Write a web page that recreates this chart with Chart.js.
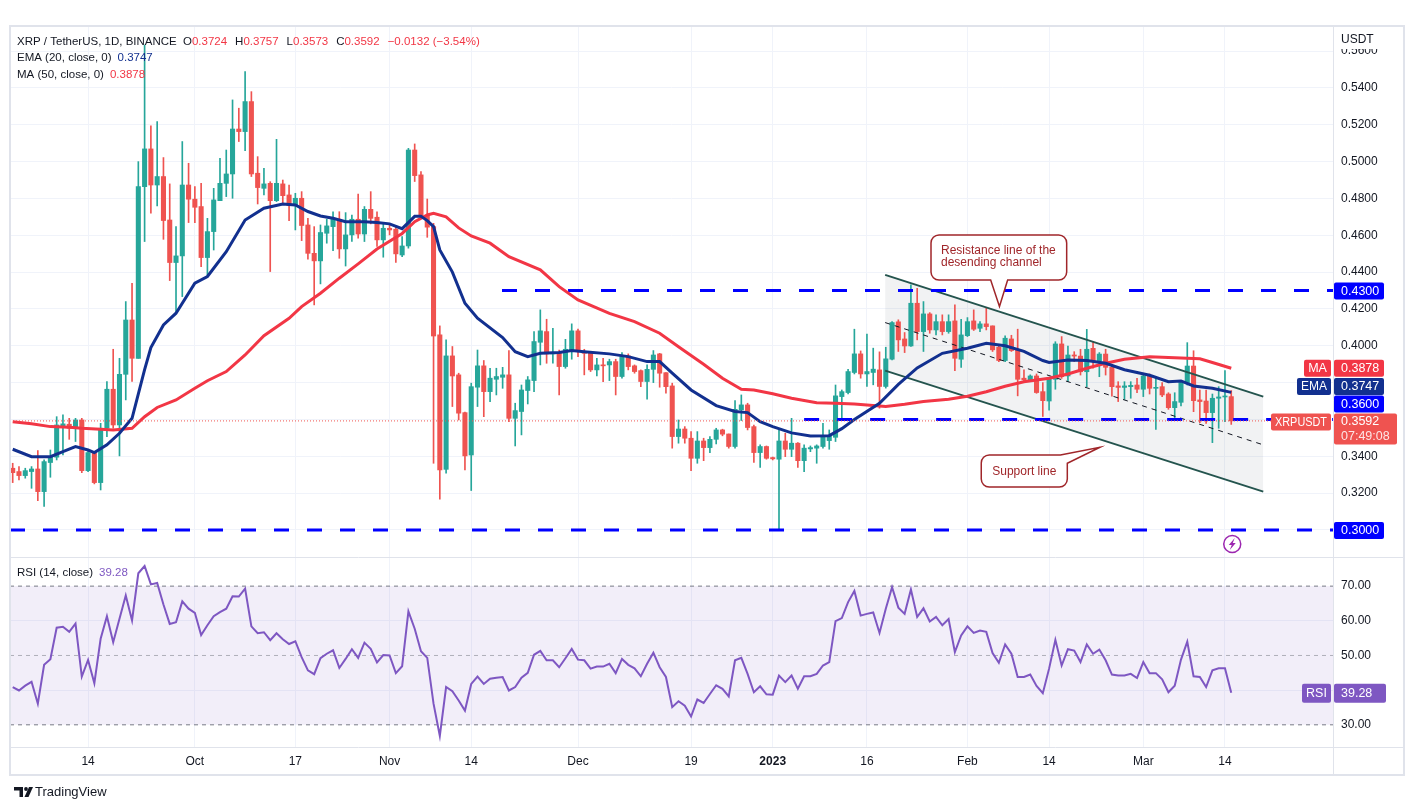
<!DOCTYPE html>
<html>
<head>
<meta charset="utf-8">
<script src="https://cdn.jsdelivr.net/npm/chart.js@4.4.0/dist/chart.umd.min.js"></script>
<style>
  html, body { margin: 0; padding: 0; background: #fff; }
  #wrap { position: relative; width: 1409px; height: 810px; }
</style>
</head>
<body>
<div id="wrap"><canvas id="chart" width="1409" height="810"></canvas></div>
<script>
// XRP/USDT daily candles, day 0 = 2022-09-02
const opens = [
  0.3335,0.3317,0.3295,0.3317,0.3331,0.3208,0.3366,0.3395,0.3566,0.3574,
  0.3552,0.3597,0.3322,0.3416,0.3257,0.3552,0.3764,0.3570,0.3845,0.4140,
  0.3932,0.4864,0.5069,0.4873,0.4919,0.4683,0.4452,0.4488,0.4873,0.4796,
  0.4756,0.4479,0.4620,0.4788,0.4882,0.4933,0.5177,0.5163,0.5326,0.4937,
  0.4855,0.4882,0.4788,0.4879,0.4819,0.4761,0.4801,0.4656,0.4502,0.4461,
  0.4611,0.4647,0.4687,0.4526,0.4602,0.4687,0.4607,0.4741,0.4698,0.4575,
  0.4638,0.4633,0.4493,0.4542,0.5063,0.4928,0.4705,0.4647,0.4059,0.3329,
  0.3945,0.3842,0.3637,0.3407,0.3775,0.3891,0.3751,0.3818,0.3829,0.3842,
  0.3606,0.3643,0.3757,0.3811,0.4019,0.4077,0.3956,0.3963,0.3887,0.3974,
  0.4081,0.3968,0.3963,0.3869,0.3896,0.3896,0.3914,0.3833,0.3945,0.3891,
  0.3865,0.3806,0.3872,0.3956,0.3854,0.3782,0.3507,0.3548,0.3498,0.3389,
  0.3483,0.3447,0.3492,0.3543,0.3521,0.3453,0.3652,0.3679,0.3561,0.3420,
  0.3453,0.3393,0.3384,0.3483,0.3438,0.3471,0.3376,0.3440,0.3444,0.3453,
  0.3485,0.3503,0.3724,0.3746,0.3855,0.3956,0.3847,0.3855,0.3869,0.3779,
  0.3927,0.4130,0.4037,0.3999,0.4231,0.4077,0.4173,0.4086,0.4131,0.4077,
  0.4135,0.3927,0.4055,0.4135,0.4095,0.4119,0.4108,0.3992,0.3920,0.4037,
  0.3978,0.3824,0.3815,0.3836,0.3751,0.3700,0.3818,0.4010,0.3836,0.3950,
  0.3944,0.3859,0.3986,0.3919,0.3955,0.3883,0.3782,0.3774,0.3778,0.3787,
  0.3764,0.3836,0.3769,0.3778,0.3738,0.3664,0.3693,0.3800,0.3890,0.3706,
  0.3700,0.3637,0.3715,0.3722,0.3724
];
const highs = [
  0.3362,0.3344,0.3335,0.3344,0.3431,0.3380,0.3434,0.3615,0.3625,0.3606,
  0.3606,0.3606,0.3431,0.3425,0.3579,0.3806,0.3981,0.3932,0.4240,0.4339,
  0.5000,0.5633,0.5194,0.5217,0.5022,0.4879,0.4647,0.5109,0.4991,0.4864,
  0.4882,0.4692,0.4855,0.5018,0.5063,0.5335,0.5290,0.5489,0.5380,0.5027,
  0.4964,0.4891,0.5121,0.4900,0.4873,0.4828,0.4837,0.4692,0.4647,0.4656,
  0.4687,0.4728,0.4728,0.4723,0.4710,0.4824,0.4756,0.4837,0.4728,0.4665,
  0.4665,0.4651,0.4593,0.5072,0.5096,0.4946,0.4797,0.4665,0.4108,0.4032,
  0.3996,0.3851,0.3640,0.3797,0.3977,0.3920,0.3878,0.3878,0.3883,0.3974,
  0.3688,0.3787,0.3833,0.4077,0.4195,0.4144,0.4095,0.3977,0.4035,0.4119,
  0.4090,0.3981,0.3968,0.3932,0.3932,0.3927,0.3927,0.3963,0.3956,0.3896,
  0.3869,0.3896,0.3974,0.3959,0.3854,0.3797,0.3597,0.3561,0.3534,0.3534,
  0.3498,0.3507,0.3552,0.3547,0.3521,0.3702,0.3733,0.3688,0.3570,0.3462,
  0.3456,0.3396,0.3552,0.3525,0.3606,0.3474,0.3462,0.3456,0.3462,0.3579,
  0.3543,0.3787,0.3760,0.3872,0.4090,0.3972,0.4064,0.3987,0.3967,0.3992,
  0.4131,0.4141,0.4072,0.4331,0.4312,0.4240,0.4180,0.4168,0.4168,0.4168,
  0.4222,0.4144,0.4153,0.4195,0.4131,0.4204,0.4108,0.4005,0.4054,0.4057,
  0.4090,0.3869,0.3842,0.3847,0.3800,0.3830,0.4022,0.4050,0.3999,0.3968,
  0.3981,0.4089,0.4022,0.3963,0.3981,0.3887,0.3805,0.3805,0.3805,0.3823,
  0.3850,0.3847,0.3832,0.3800,0.3745,0.3745,0.3805,0.4017,0.3973,0.3760,
  0.3760,0.3738,0.3778,0.3865,0.3757
];
const lows = [
  0.3257,0.3271,0.3281,0.3226,0.3159,0.3127,0.3286,0.3380,0.3407,0.3492,
  0.3480,0.3311,0.3317,0.3250,0.3217,0.3507,0.3552,0.3402,0.3706,0.3806,
  0.3932,0.4566,0.4720,0.4759,0.4578,0.4354,0.4173,0.4267,0.4669,0.4669,
  0.4430,0.4376,0.4520,0.4788,0.4810,0.4801,0.5109,0.5060,0.4919,0.4770,
  0.4819,0.4403,0.4783,0.4774,0.4680,0.4629,0.4571,0.4470,0.4222,0.4336,
  0.4557,0.4517,0.4475,0.4433,0.4566,0.4584,0.4566,0.4662,0.4539,0.4481,
  0.4602,0.4452,0.4484,0.4530,0.4892,0.4690,0.4589,0.3362,0.3167,0.3308,
  0.3670,0.3597,0.3326,0.3214,0.3670,0.3615,0.3697,0.3733,0.3769,0.3588,
  0.3456,0.3516,0.3684,0.3751,0.3896,0.3905,0.3905,0.3733,0.3878,0.3927,
  0.3941,0.3842,0.3860,0.3836,0.3805,0.3811,0.3733,0.3824,0.3869,0.3851,
  0.3778,0.3710,0.3800,0.3775,0.3742,0.3444,0.3471,0.3471,0.3322,0.3362,
  0.3376,0.3420,0.3467,0.3511,0.3444,0.3444,0.3594,0.3543,0.3366,0.3340,
  0.3384,0.3380,0.3000,0.3398,0.3398,0.3340,0.3317,0.3425,0.3362,0.3444,
  0.3438,0.3480,0.3597,0.3739,0.3847,0.3824,0.3779,0.3788,0.3661,0.3770,
  0.3923,0.3969,0.3963,0.3996,0.4032,0.3969,0.4068,0.4059,0.4059,0.4068,
  0.3865,0.3882,0.4050,0.4083,0.4077,0.4086,0.3969,0.3914,0.3914,0.3969,
  0.3728,0.3811,0.3811,0.3742,0.3616,0.3650,0.3764,0.3823,0.3805,0.3914,
  0.3841,0.3778,0.3878,0.3832,0.3841,0.3727,0.3697,0.3709,0.3715,0.3745,
  0.3724,0.3738,0.3546,0.3724,0.3655,0.3601,0.3673,0.3787,0.3642,0.3583,
  0.3579,0.3474,0.3552,0.3588,0.3573
];
const closes = [
  0.3311,0.3295,0.3322,0.3331,0.3208,0.3371,0.3398,0.3570,0.3576,0.3552,
  0.3597,0.3322,0.3420,0.3257,0.3552,0.3764,0.3570,0.3845,0.4140,0.3932,
  0.4864,0.5069,0.4873,0.4919,0.4680,0.4452,0.4488,0.4873,0.4796,0.4752,
  0.4479,0.4620,0.4792,0.4882,0.4933,0.5177,0.5163,0.5326,0.4933,0.4859,
  0.4879,0.4788,0.4882,0.4815,0.4761,0.4801,0.4653,0.4502,0.4461,0.4615,
  0.4651,0.4692,0.4526,0.4602,0.4687,0.4607,0.4741,0.4692,0.4575,0.4638,
  0.4629,0.4499,0.4542,0.5063,0.4924,0.4705,0.4644,0.4053,0.3326,0.3945,
  0.3836,0.3634,0.3402,0.3778,0.3891,0.3751,0.3824,0.3833,0.3842,0.3606,
  0.3648,0.3760,0.3815,0.4023,0.4081,0.3956,0.3963,0.3887,0.3981,0.4081,
  0.3968,0.3959,0.3869,0.3896,0.3891,0.3914,0.3833,0.3941,0.3887,0.3860,
  0.3806,0.3872,0.3950,0.3851,0.3778,0.3507,0.3548,0.3498,0.3389,0.3483,
  0.3447,0.3492,0.3543,0.3520,0.3453,0.3655,0.3679,0.3556,0.3420,0.3453,
  0.3389,0.3386,0.3483,0.3438,0.3471,0.3376,0.3444,0.3447,0.3456,0.3507,
  0.3511,0.3728,0.3751,0.3860,0.3956,0.3847,0.3860,0.3873,0.3779,0.3929,
  0.4126,0.4032,0.3999,0.4231,0.4077,0.4173,0.4086,0.4131,0.4077,0.4131,
  0.3932,0.4059,0.4131,0.4090,0.4119,0.4104,0.3978,0.3920,0.4041,0.3974,
  0.3818,0.3815,0.3836,0.3746,0.3702,0.3818,0.4010,0.3832,0.3950,0.3944,
  0.3859,0.3981,0.3914,0.3955,0.3883,0.3778,0.3774,0.3782,0.3785,0.3764,
  0.3836,0.3769,0.3773,0.3733,0.3664,0.3697,0.3800,0.3890,0.3702,0.3697,
  0.3637,0.3715,0.3722,0.3724,0.3592
];

const emaDays = [0,3,6,8,10,12,13,15,17,19,21,22,24,26,29,31,34,37,40,43,45,47,49,51,53,56,58,60,62,64,
  65,66,67,68,70,72,74,78,80,82,84,87,89,91,95,98,101,103,105,108,112,115,117,119,121,124,127,130,132,134,
  138,141,144,148,152,155,158,161,164,165,168,171,174,177,181,184,186,188,191,194];
const emaValues = [0.3438,0.3398,0.3398,0.3425,0.3453,0.3434,0.3420,0.3462,0.3525,0.3606,0.3870,0.3990,0.4113,0.4177,0.4340,0.4376,0.4511,0.4683,0.4747,0.4770,
  0.4765,0.4729,0.4705,0.4692,0.4674,0.4674,0.4669,0.4662,0.4636,0.4703,0.4703,0.4680,0.4647,0.4520,0.4400,0.4231,0.4150,0.4045,0.3968,0.3941,
  0.3959,0.3963,0.3974,0.3968,0.3956,0.3941,0.3914,0.3914,0.3851,0.3760,0.3675,0.3643,0.3637,0.3588,0.3561,0.3527,0.3510,0.3512,0.3550,0.3600,
  0.3688,0.3790,0.3880,0.3959,0.3987,0.4014,0.4000,0.3970,0.3920,0.3909,0.3923,0.3920,0.3905,0.3870,0.3840,0.3805,0.3809,0.3782,0.3769,0.3747];
const maDays = [0,3,6,9,11,14,16,19,21,23,26,29,31,34,37,40,44,46,49,52,55,58,62,64,66,67,69,71,73,76,
  79,84,87,90,95,99,103,106,110,113,116,118,121,124,128,131,134,139,142,145,149,152,155,158,161,165,168,171,174,177,
  181,184,187,189,191,194];
const maValues = [0.3588,0.3576,0.3561,0.3557,0.3552,0.3547,0.3543,0.3552,0.3615,0.3665,0.3706,0.3769,0.3810,0.3860,0.3950,0.4055,0.4149,0.4213,0.4285,0.4367,
  0.4445,0.4525,0.4610,0.4674,0.4710,0.4719,0.4700,0.4640,0.4596,0.4557,0.4484,0.4412,0.4321,0.4249,0.4176,0.4131,0.4068,0.3995,0.3900,0.3824,
  0.3764,0.3760,0.3739,0.3715,0.3691,0.3688,0.3684,0.3670,0.3682,0.3697,0.3710,0.3726,0.3750,0.3780,0.3805,0.3824,0.3847,0.3878,0.3905,0.3927,
  0.3941,0.3936,0.3932,0.3929,0.3909,0.3878];
const rsiValues = [
  40.9,39.9,41.3,42.4,36.1,47.3,48.9,58.0,58.3,56.8,
  59.2,43.9,48.7,42.0,54.8,61.3,53.8,60.6,67.3,60.1,
  73.7,75.8,70.5,70.9,64.7,59.1,59.6,65.6,63.5,62.3,
  55.9,58.7,61.3,62.5,63.5,67.1,67.0,69.3,58.4,56.4,
  56.7,54.4,56.4,54.7,53.3,54.1,49.5,45.7,44.6,49.2,
  50.5,51.5,46.4,49.0,51.8,49.3,53.7,51.9,48.0,50.1,
  50.0,44.9,46.9,62.7,57.7,51.2,49.3,36.1,26.8,40.9,
  39.7,37.0,34.1,41.8,43.9,41.8,43.3,43.6,43.8,39.9,
  40.9,43.6,45.0,50.2,51.3,48.6,48.6,46.6,49.2,51.9,
  48.8,48.6,46.2,46.8,46.8,47.6,44.9,49.0,47.3,46.3,
  44.0,47.6,50.8,46.6,43.8,35.1,36.8,35.5,32.4,37.3,
  36.3,38.9,41.4,40.4,38.2,48.6,49.3,44.7,39.4,41.1,
  38.8,38.7,44.2,42.3,44.2,40.4,44.0,44.0,44.7,47.1,
  48.1,59.9,60.8,65.4,68.6,61.5,62.0,62.4,56.5,63.5,
  69.7,63.8,62.0,69.0,61.1,63.6,59.8,61.1,58.7,60.5,
  51.0,55.8,58.4,56.5,57.2,56.8,50.7,47.9,53.2,50.5,
  43.8,43.8,44.5,41.2,39.1,46.2,54.5,47.1,51.8,51.4,
  48.1,53.2,50.5,51.7,48.6,44.5,44.2,44.2,44.7,43.5,
  48.1,44.9,44.9,43.1,39.4,41.3,48.8,54.0,44.0,43.8,
  40.9,45.7,46.3,46.3,39.28
];

// axis ticks
const tickDays = [12, 29, 45, 60, 73, 90, 108, 121, 136, 152, 165, 180, 193];
const tickLabels = ['14', 'Oct', '17', 'Nov', '14', 'Dec', '19', '2023', '16', 'Feb', '14', 'Mar', '14'];
const priceTicks = [0.30, 0.32, 0.34, 0.36, 0.38, 0.40, 0.42, 0.44, 0.46, 0.48, 0.50, 0.52, 0.54, 0.56];
const hiddenPriceTicks = [0.30, 0.36, 0.38];
const rsiTicks = [30, 40, 50, 60, 70];

// drawn levels and channel
const levelPrices = [0.43, 0.36, 0.30];
const levelFrom = [77.9, 126.0, -0.43];
const channelDays = [138.9, 199.1];
const channelUpper = [0.4385, 0.3724];
const channelLower = [0.3865, 0.3208];
const channelMid = [0.4126, 0.3462];

const X_MIN = -0.43, X_MAX = 210.2;
const FONT = '"Liberation Sans", Arial, sans-serif';
const UP = '#26a69a', DOWN = '#ef5350';
const N = closes.length;
const candleColors = closes.map((c, i) => c >= opens[i] ? UP : DOWN);

const pts = (xs, ys) => xs.map((x, i) => ({ x: x, y: ys[i] }));
const span = (v, from) => [{ x: from, y: v }, { x: X_MAX, y: v }];

const datasets = [
  { type: 'line', data: pts(channelDays, channelUpper), borderWidth: 0, pointRadius: 0,
    fill: '+1', backgroundColor: 'rgba(120,123,134,0.10)', order: 40 },
  { type: 'line', data: pts(channelDays, channelLower), borderWidth: 0, pointRadius: 0, fill: false, order: 39 },
  { type: 'line', yAxisID: 'yR', data: span(70, X_MIN), borderColor: '#787b86', borderWidth: 1, borderDash: [4, 4],
    pointRadius: 0, fill: '+1', backgroundColor: 'rgba(126,87,194,0.10)', order: 38 },
  { type: 'line', yAxisID: 'yR', data: span(30, X_MIN), borderColor: '#787b86', borderWidth: 1, borderDash: [4, 4],
    pointRadius: 0, fill: false, order: 37 },
  { type: 'line', yAxisID: 'yR', data: span(50, X_MIN), borderColor: 'rgba(120,123,134,0.55)', borderWidth: 1, borderDash: [4, 4],
    pointRadius: 0, fill: false, order: 36 },
  { type: 'bar', data: lows.map((l, i) => ({ x: i, y: [l, highs[i]] })), backgroundColor: candleColors,
    barThickness: 1, maxBarThickness: 1, grouped: false, borderWidth: 0, order: 20 },
  { type: 'bar', data: opens.map((o, i) => ({ x: i, y: [o, closes[i]] })), backgroundColor: candleColors,
    barThickness: 4.4, maxBarThickness: 4.4, grouped: false, borderWidth: 0, minBarLength: 1, order: 19 },
  { type: 'line', data: pts(channelDays, channelUpper), borderColor: '#24544e', borderWidth: 2, pointRadius: 0, order: 8 },
  { type: 'line', data: pts(channelDays, channelLower), borderColor: '#24544e', borderWidth: 2, pointRadius: 0, order: 8 },
  { type: 'line', data: pts(channelDays, channelMid), borderColor: '#131722', borderWidth: 1, borderDash: [5, 5], pointRadius: 0, order: 8 }
];
levelPrices.forEach((p, k) => datasets.push({
  type: 'line', data: span(p, levelFrom[k]), borderColor: '#0000ff', borderWidth: 3,
  borderDash: [15, 18], pointRadius: 0, order: 6
}));
datasets.push(
  { type: 'line', data: pts(maDays, maValues), borderColor: '#f23645', borderWidth: 3, pointRadius: 0, order: 4 },
  { type: 'line', data: pts(emaDays, emaValues), borderColor: '#12308f', borderWidth: 3, pointRadius: 0, order: 3 },
  { type: 'line', data: span(closes[N - 1], X_MIN), borderColor: '#ef5350', borderWidth: 1, borderDash: [1, 2], pointRadius: 0, order: 2 },
  { type: 'line', yAxisID: 'yR', data: rsiValues.map((v, i) => ({ x: i, y: v })), borderColor: '#7e57c2', borderWidth: 2, pointRadius: 0, order: 1 }
);

function tag(ctx, x, y, w, h, bg, text, align) {
  ctx.fillStyle = bg;
  ctx.beginPath(); ctx.roundRect(x, y, w, h, 2); ctx.fill();
  ctx.fillStyle = '#fff';
  ctx.textBaseline = 'middle';
  ctx.textAlign = align || 'left';
  if (align === 'center') ctx.fillText(text, x + w / 2, y + h / 2 + 0.5, w - 8);
  else ctx.fillText(text, x + 7, y + h / 2 + 0.5);
}

const overlay = {
  id: 'overlay',
  beforeDraw(chart) {
    const ctx = chart.ctx;
    ctx.save(); ctx.fillStyle = '#fff'; ctx.fillRect(0, 0, chart.width, chart.height); ctx.restore();
  },
  afterDraw(chart) {
    const ctx = chart.ctx;
    const xs = chart.scales.x, ys = chart.scales.y, yr = chart.scales.yR;
    const px = v => xs.getPixelForValue(v), py = v => ys.getPixelForValue(v);
    const left = chart.chartArea.left, right = chart.chartArea.right;
    ctx.save();

    // frame and pane separators
    ctx.strokeStyle = '#e0e3eb'; ctx.lineWidth = 1;
    ctx.beginPath();
    ctx.moveTo(left, ys.bottom + 0.5); ctx.lineTo(1404, ys.bottom + 0.5);
    ctx.moveTo(left, yr.bottom + 0.5); ctx.lineTo(1404, yr.bottom + 0.5);
    ctx.moveTo(right + 0.5, ys.top); ctx.lineTo(right + 0.5, 774);
    ctx.stroke();
    ctx.lineWidth = 2;
    ctx.strokeRect(left, ys.top - 1, 1404 - left, 775 - ys.top + 1);

    // USDT caption
    ctx.fillStyle = '#fff'; ctx.fillRect(right + 1, ys.top, 68, 22);
    ctx.font = '12px ' + FONT; ctx.fillStyle = '#131722'; ctx.textBaseline = 'middle'; ctx.textAlign = 'left';
    ctx.fillText('USDT', right + 8, 40);

    // legend header
    const red = '#f23645';
    ctx.font = '11.5px ' + FONT;
    ctx.fillStyle = '#131722';
    ctx.fillText('XRP / TetherUS, 1D, BINANCE', 17, 42);
    let hx = 183;
    [['O', opens[N - 1]], ['H', highs[N - 1]], ['L', lows[N - 1]], ['C', closes[N - 1]]].forEach(([k, v]) => {
      ctx.fillStyle = '#131722'; ctx.fillText(k, hx, 42); hx += ctx.measureText(k).width;
      const s = v.toFixed(4);
      ctx.fillStyle = red; ctx.fillText(s, hx, 42); hx += ctx.measureText(s).width + 8;
    });
    const chg = closes[N - 1] - closes[N - 2];
    const pct = chg / closes[N - 2] * 100;
    ctx.fillStyle = red;
    ctx.fillText('\u2212' + Math.abs(chg).toFixed(4) + ' (\u2212' + Math.abs(pct).toFixed(2) + '%)', hx, 42);
    const legendLine = (label, value, color, y) => {
      ctx.fillStyle = '#131722'; ctx.fillText(label, 17, y);
      ctx.fillStyle = color; ctx.fillText(value, 17 + ctx.measureText(label).width + 6, y);
    };
    legendLine('EMA (20, close, 0)', emaValues[emaValues.length - 1].toFixed(4), '#12308f', 58);
    legendLine('MA (50, close, 0)', maValues[maValues.length - 1].toFixed(4), red, 75);
    legendLine('RSI (14, close)', rsiValues[N - 1].toFixed(2), '#7e57c2', 573);

    // right-axis value tags, pushed up to avoid overlap
    ctx.font = '12.5px ' + FONT;
    const ax = right + 1;
    const priceY = py(closes[N - 1]);
    tag(ctx, ax, priceY - 7.5, 63, 31, '#ef5350', '', 'left');
    ctx.fillStyle = '#fff'; ctx.textAlign = 'left';
    ctx.fillText(closes[N - 1].toFixed(4), ax + 7, priceY + 1);
    ctx.fillStyle = 'rgba(255,255,255,0.85)';
    ctx.fillText('07:49:08', ax + 7, priceY + 16);
    tag(ctx, right - 62, priceY - 7.5, 60, 17, '#ef5350', 'XRPUSDT', 'center');
    let ceiling = priceY - 8.5;
    const stacked = [
      { v: 0.36, bg: '#0000ff' },
      { v: emaValues[emaValues.length - 1], bg: '#12308f', name: 'EMA', w: 34 },
      { v: maValues[maValues.length - 1], bg: '#f23645', name: 'MA', w: 27 }
    ];
    stacked.forEach(t => {
      let top = py(t.v) - 8.5;
      if (top + 17 > ceiling) top = ceiling - 17;
      tag(ctx, ax, top, 50, 17, t.bg, t.v.toFixed(4));
      if (t.name) tag(ctx, right - 2 - t.w, top, t.w, 17, t.bg, t.name, 'center');
      ceiling = top - 0.5;
    });
    [0.43, 0.30].forEach(v => tag(ctx, ax, py(v) - 8, 50, 17, '#0000ff', v.toFixed(4)));
    const rsiY = yr.getPixelForValue(rsiValues[N - 1]);
    tag(ctx, ax, rsiY - 9, 52, 19, '#7e57c2', rsiValues[N - 1].toFixed(2));
    tag(ctx, right - 31, rsiY - 9, 29, 19, '#7e57c2', 'RSI', 'center');

    // callouts
    ctx.lineWidth = 1.5; ctx.strokeStyle = '#a0262a'; ctx.fillStyle = '#fff';
    let x0 = px(146.2), x1 = px(167.8), y0 = py(0.4602), y1 = py(0.4357), r = 8;
    ctx.beginPath();
    ctx.moveTo(x0 + r, y0); ctx.lineTo(x1 - r, y0); ctx.arcTo(x1, y0, x1, y0 + r, r);
    ctx.lineTo(x1, y1 - r); ctx.arcTo(x1, y1, x1 - r, y1, r);
    ctx.lineTo(px(158.4), y1); ctx.lineTo(px(157.1), py(0.4213)); ctx.lineTo(px(155.7), y1);
    ctx.lineTo(x0 + r, y1); ctx.arcTo(x0, y1, x0, y1 - r, r);
    ctx.lineTo(x0, y0 + r); ctx.arcTo(x0, y0, x0 + r, y0, r); ctx.closePath();
    ctx.fill(); ctx.stroke();
    ctx.fillStyle = '#a0262a'; ctx.font = '12px ' + FONT; ctx.textAlign = 'left';
    ctx.fillText('Resistance line of the', x0 + 10, y0 + 16);
    ctx.fillText('desending channel', x0 + 10, y0 + 28);

    x0 = px(154.2); x1 = px(167.9); y0 = py(0.3407); y1 = py(0.3233);
    ctx.fillStyle = '#fff';
    ctx.beginPath();
    ctx.moveTo(x0 + r, y0); ctx.lineTo(px(166.8), y0); ctx.lineTo(px(173.1), py(0.3449));
    ctx.lineTo(x1, py(0.3362)); ctx.lineTo(x1, y1 - r); ctx.arcTo(x1, y1, x1 - r, y1, r);
    ctx.lineTo(x0 + r, y1); ctx.arcTo(x0, y1, x0, y1 - r, r);
    ctx.lineTo(x0, y0 + r); ctx.arcTo(x0, y0, x0 + r, y0, r); ctx.closePath();
    ctx.fill(); ctx.stroke();
    ctx.fillStyle = '#a0262a'; ctx.textAlign = 'center';
    ctx.fillText('Support line', (x0 + x1) / 2, (y0 + y1) / 2 + 1);

    // event marker
    const ex = px(N - 1) + 1, ey = ys.bottom - 13;
    ctx.strokeStyle = '#9c27b0'; ctx.lineWidth = 1.5;
    ctx.beginPath(); ctx.arc(ex, ey, 8.5, 0, Math.PI * 2); ctx.stroke();
    ctx.fillStyle = '#9c27b0';
    ctx.beginPath();
    ctx.moveTo(ex + 2.5, ey - 6); ctx.lineTo(ex - 3.5, ey + 1); ctx.lineTo(ex - 0.5, ey + 1);
    ctx.lineTo(ex - 2.5, ey + 6); ctx.lineTo(ex + 3.5, ey - 1); ctx.lineTo(ex + 0.5, ey - 1); ctx.closePath();
    ctx.fill();

    // TradingView mark
    ctx.fillStyle = '#131722';
    ctx.fillRect(14, 787, 9, 3.5);
    ctx.fillRect(19.5, 787, 3.5, 10);
    ctx.beginPath(); ctx.arc(26, 789, 1.9, 0, Math.PI * 2); ctx.fill();
    ctx.beginPath(); ctx.moveTo(29, 787); ctx.lineTo(33, 787); ctx.lineTo(28.5, 797); ctx.lineTo(24.5, 797); ctx.closePath(); ctx.fill();
    ctx.font = '13px ' + FONT; ctx.textAlign = 'left'; ctx.textBaseline = 'middle';
    ctx.fillText('TradingView', 35, 792.5);
    ctx.restore();
  }
};

new Chart(document.getElementById('chart'), {
  type: 'bar',
  data: { datasets: datasets },
  options: {
    responsive: false,
    maintainAspectRatio: false,
    animation: false,
    layout: { padding: { left: 10, top: 27, right: 0, bottom: 36 } },
    plugins: { legend: { display: false }, tooltip: { enabled: false } },
    scales: {
      x: {
        type: 'linear', min: X_MIN, max: X_MAX, offset: false,
        afterBuildTicks: s => { s.ticks = tickDays.map(v => ({ value: v })); },
        afterFit: s => { s.height = 27; },
        ticks: {
          autoSkip: false, maxRotation: 0, padding: 7, color: '#131722',
          callback: v => { const k = tickDays.indexOf(v); return k >= 0 ? tickLabels[k] : ''; },
          font: c => ({ family: FONT, size: 12, weight: c.tick && c.tick.value === 121 ? 'bold' : 'normal' })
        },
        grid: { color: '#f0f3fa', drawTicks: false, offset: false },
        border: { display: false }
      },
      y: {
        type: 'linear', position: 'right', stack: 'pane', stackWeight: 530,
        min: 0.2853, max: 0.5731,
        afterBuildTicks: s => { s.ticks = priceTicks.map(v => ({ value: v })); },
        afterFit: s => { s.width = 76; },
        ticks: {
          autoSkip: false, padding: 8, color: '#131722', font: { family: FONT, size: 12 },
          callback: v => hiddenPriceTicks.includes(v) ? '' : v.toFixed(4)
        },
        grid: { color: '#f0f3fa', drawTicks: false },
        border: { display: false }
      },
      yR: {
        type: 'linear', position: 'right', stack: 'pane', stackWeight: 190,
        min: 23.6, max: 78.4,
        afterBuildTicks: s => { s.ticks = rsiTicks.map(v => ({ value: v })); },
        afterFit: s => { s.width = 76; },
        ticks: {
          autoSkip: false, padding: 8, color: '#131722', font: { family: FONT, size: 12 },
          callback: v => v === 40 ? '' : v.toFixed(2)
        },
        grid: { color: c => (c.tick && (c.tick.value === 40 || c.tick.value === 60)) ? '#f0f3fa' : 'rgba(0,0,0,0)', drawTicks: false },
        border: { display: false }
      }
    }
  },
  plugins: [overlay]
});
</script>
</body>
</html>
